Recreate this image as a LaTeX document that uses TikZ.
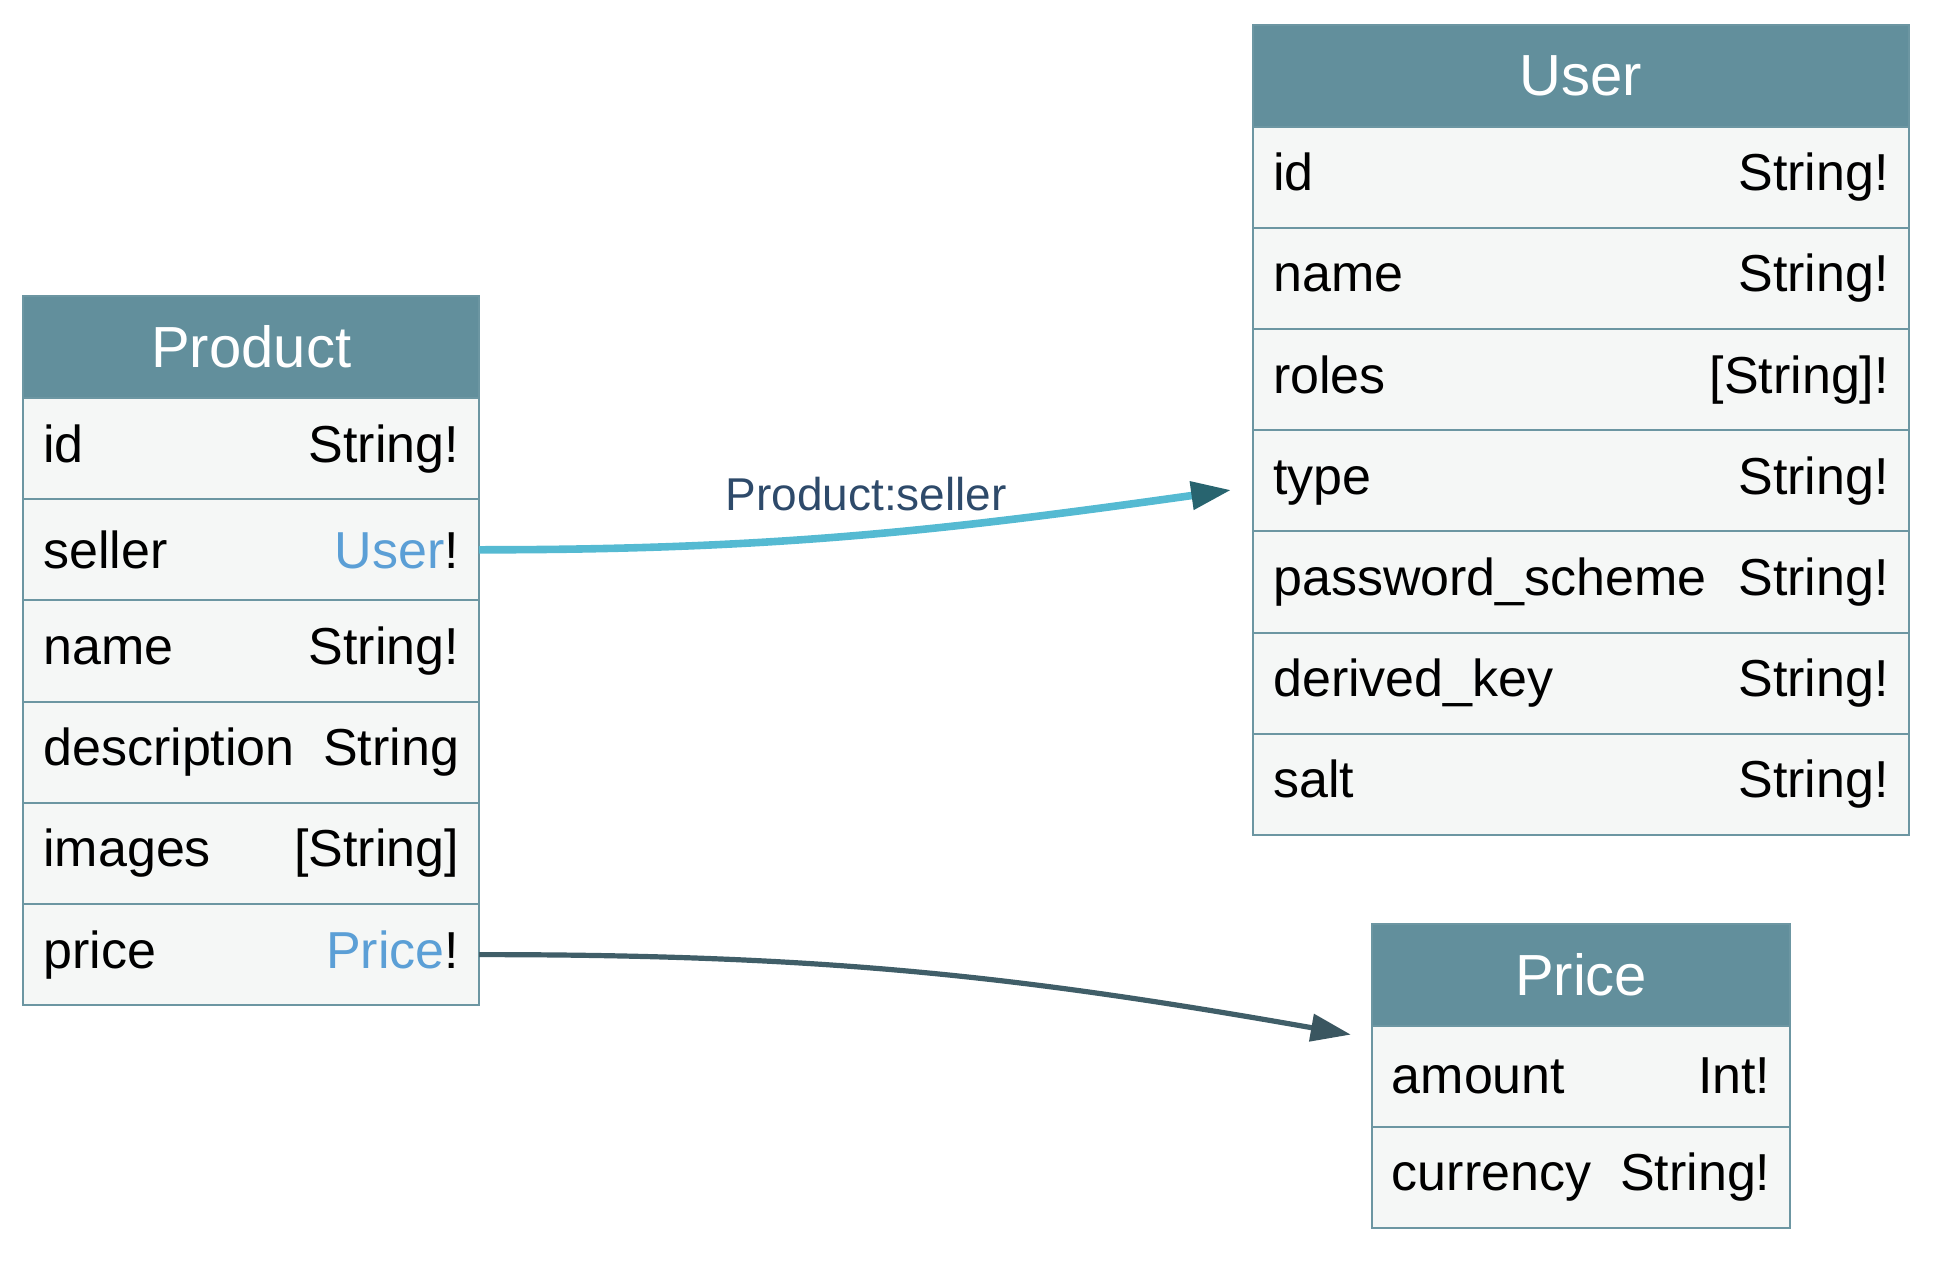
\documentclass[tikz,border=0pt]{standalone}
\usepackage{fontspec}
\setmainfont{Liberation Sans}
\usetikzlibrary{positioning,arrows.meta}

\definecolor{headfill}{RGB}{98,143,156}
\definecolor{rowfill}{RGB}{245,247,246}
\definecolor{tableborder}{RGB}{108,150,162}
\definecolor{typelink}{RGB}{91,159,214}
\definecolor{sellerline}{RGB}{85,186,210}
\definecolor{sellerhead}{RGB}{40,100,111}
\definecolor{labeltext}{RGB}{46,74,106}
\definecolor{priceline}{RGB}{64,94,104}
\definecolor{pricehead}{RGB}{58,86,96}

\tikzset{
    tablehead/.style={draw=tableborder, fill=headfill, line width=1pt, text=white,
        minimum width=#1, minimum height=51pt, inner sep=0pt, outer sep=0pt,
        font=\fontsize{29}{35}\selectfont},
    tablerow/.style={draw=tableborder, fill=rowfill, line width=1pt,
        text width=#1, align=left, minimum height=50.6pt, inner xsep=10pt,
        inner ysep=0pt, outer sep=0pt, font=\fontsize{26}{31}\selectfont},
    edgelabel/.style={text=labeltext, font=\fontsize{23}{28}\selectfont}
}

\begin{document}
\begin{tikzpicture}
    \useasboundingbox (0,0) rectangle (968pt,-631pt);

    % Product
    \node[tablehead=227.8pt, anchor=north west] (product) at (11.7pt,-148pt) {Product};
    \node[tablerow=207.8pt, below=0pt of product] (product-id) {id\hfill String!};
    \node[tablerow=207.8pt, below=0pt of product-id] (product-seller) {seller\hfill \textcolor{typelink}{User}!};
    \node[tablerow=207.8pt, below=0pt of product-seller] (product-name) {name\hfill String!};
    \node[tablerow=207.8pt, below=0pt of product-name] (product-description) {description\hfill String};
    \node[tablerow=207.8pt, below=0pt of product-description] (product-images) {images\hfill [String]};
    \node[tablerow=207.8pt, below=0pt of product-images] (product-price) {price\hfill \textcolor{typelink}{Price}!};

    % User
    \node[tablehead=327.8pt, anchor=north west] (user) at (626.6pt,-12.3pt) {User};
    \node[tablerow=307.8pt, below=0pt of user] (user-id) {id\hfill String!};
    \node[tablerow=307.8pt, below=0pt of user-id] (user-name) {name\hfill String!};
    \node[tablerow=307.8pt, below=0pt of user-name] (user-roles) {roles\hfill [String]!};
    \node[tablerow=307.8pt, below=0pt of user-roles] (user-type) {type\hfill String!};
    \node[tablerow=307.8pt, below=0pt of user-type] (user-scheme) {password\_scheme\hfill String!};
    \node[tablerow=307.8pt, below=0pt of user-scheme] (user-key) {derived\_key\hfill String!};
    \node[tablerow=307.8pt, below=0pt of user-key] (user-salt) {salt\hfill String!};

    % Price
    \node[tablehead=209.3pt, anchor=north west] (price) at (685.9pt,-461.8pt) {Price};
    \node[tablerow=189.3pt, below=0pt of price] (price-amount) {amount\hfill Int!};
    \node[tablerow=189.3pt, below=0pt of price-amount] (price-currency) {currency\hfill String!};

    % links
    \draw[sellerline, line width=3.8pt, -{Triangle[length=20pt, width=13.5pt, color=sellerhead]}]
        (product-seller.east) to[out=0, in=188]
        node[midway, above=7pt, xshift=5pt, edgelabel] (seller-label) {Product:seller}
        ([xshift=-11pt, yshift=-4.6pt]user-type.west);
    \draw[priceline, line width=2.6pt, -{Triangle[length=20pt, width=13.5pt, color=pricehead]}]
        (product-price.east) to[out=0, in=170]
        ([xshift=-10.5pt, yshift=-4.5pt]price-amount.north west);
\end{tikzpicture}
\end{document}
